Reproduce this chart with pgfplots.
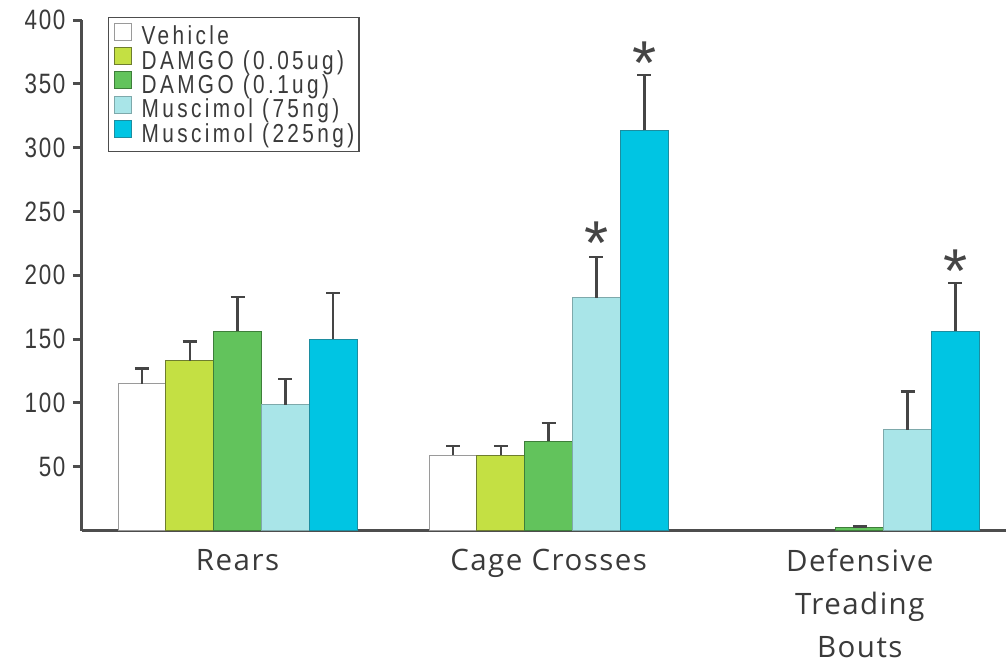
\documentclass[border=0pt]{standalone}
\usepackage{fontspec}
\usepackage{pgfplots}
\pgfplotsset{compat=1.18}
\setmainfont{Liberation Sans}
\newfontfamily\condfont[FakeStretch=0.8,LetterSpace=13]{Liberation Sans}
\newfontfamily\tickfont[FakeStretch=0.8,LetterSpace=6]{Liberation Sans}
\newfontfamily\labfont[LetterSpace=5]{Open Sans}
\definecolor{axc}{HTML}{4D4D4D}
\definecolor{txc}{HTML}{3A3A3A}
\definecolor{errc}{HTML}{454545}
\definecolor{dA}{HTML}{C4E043}
\definecolor{dAb}{HTML}{6E7D2E}
\definecolor{dB}{HTML}{62C35C}
\definecolor{dBb}{HTML}{3E7E3A}
\definecolor{mA}{HTML}{A9E5E8}
\definecolor{mAb}{HTML}{7EA9AB}
\definecolor{mB}{HTML}{00C5E3}
\definecolor{mBb}{HTML}{1C8DA0}
\definecolor{vb}{HTML}{9A9A9A}
\begin{document}
\begin{tikzpicture}
\begin{axis}[
  scale only axis,
  width=924bp, height=510.5bp,
  xmin=-0.5, xmax=2.47,
  ymin=0, ymax=400,
  axis lines*=left,
  axis line style={draw=axc, line width=3bp},
  tick align=outside,
  ytick={50,100,...,400},
  major tick length=9bp,
  tick style={draw=axc, line width=3bp},
  xtick={0,1,2},
  xticklabels={Rears,Cage Crosses,{Defensive\\Treading\\Bouts}},
  x tick style={draw=none},
  extra x ticks={-0.5,0.5,1.5},
  extra x tick labels={},
  extra x tick style={major tick length=10bp, tick style={draw=axc, line width=3bp}},
  xticklabel style={font=\fontsize{29.5bp}{43bp}\labfont, text=txc, align=center, yshift=-6bp},
  yticklabel style={font=\fontsize{28bp}{28bp}\tickfont, text=txc, xshift=-4bp},
  /pgf/number format/assume math mode=true,
  ybar=0pt,
  bar width=0.1537,
  error bars/y dir=plus,
  error bars/y explicit,
  error bars/error bar style={draw=errc, line width=2.4bp},
  error bars/error mark options={draw=errc, line width=2.4bp, mark size=7bp, rotate=90},
  legend style={at={(0.028,1.006)}, anchor=north west, draw=axc, line width=1.5bp,
    font=\fontsize{26bp}{21.7bp}\condfont, text=txc,
    inner xsep=5bp, inner ysep=5bp,
    nodes={inner sep=0pt, text height=17.4bp, text depth=4.3bp, anchor=west},
    column sep=0pt, row sep=-2bp},
  legend cell align=left,
  legend image code/.code={\draw[#1, line width=1bp] (0bp,-2bp) rectangle (17bp,15bp);},
  clip=false,
]
\addplot+[bar shift=-0.3074, fill=white, draw=vb, line width=1bp] coordinates {(0,115) +- (0,12) (1,59) +- (0,7)};
\addlegendentry{\hspace{10bp}Vehicle}
\addplot+[bar shift=-0.1537, fill=dA, draw=dAb, line width=1bp] coordinates {(0,133) +- (0,15) (1,59) +- (0,7)};
\addlegendentry{\hspace{10bp}DAMGO (0.05ug)}
\addplot+[bar shift=0, fill=dB, draw=dBb, line width=1bp] coordinates {(0,156) +- (0,27) (1,70) +- (0,14) (2,2) +- (0,1)};
\addlegendentry{\hspace{10bp}DAMGO (0.1ug)}
\addplot+[bar shift=0.1537, fill=mA, draw=mAb, line width=1bp] coordinates {(0,98.5) +- (0,20) (1,182.5) +- (0,32) (2,79) +- (0,30)};
\addlegendentry{\hspace{10bp}Muscimol (75ng)}
\addplot+[bar shift=0.3074, fill=mB, draw=mBb, line width=1bp] coordinates {(0,150) +- (0,36) (1,313.5) +- (0,43.5) (2,156) +- (0,38)};
\addlegendentry{\hspace{10bp}Muscimol (225ng)}
\node[anchor=north, text=errc, font=\fontsize{62bp}{62bp}\selectfont, inner sep=0pt] at (axis cs:1.1537,242) {*};
\node[anchor=north, text=errc, font=\fontsize{62bp}{62bp}\selectfont, inner sep=0pt] at (axis cs:1.3074,383) {*};
\node[anchor=north, text=errc, font=\fontsize{62bp}{62bp}\selectfont, inner sep=0pt] at (axis cs:2.3074,220) {*};
\end{axis}
\pgfresetboundingbox
\path (current axis.south west) ++(-82bp,-133.5bp) rectangle ++(1006bp,664bp);
\end{tikzpicture}
\end{document}
